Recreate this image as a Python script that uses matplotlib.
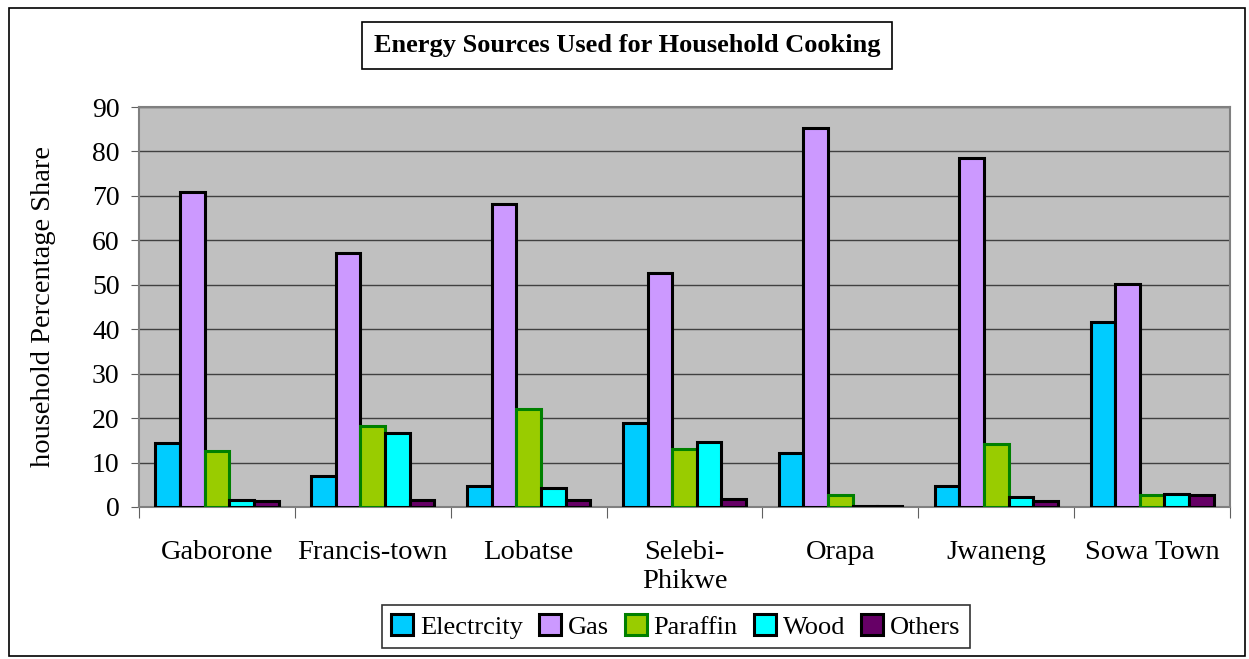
import matplotlib
matplotlib.use('Agg')

import matplotlib.pyplot as plt
from matplotlib.patches import Rectangle
import numpy as np

plt.rcParams['font.family'] = ['Liberation Serif', 'DejaVu Serif']

towns = ["Gaborone", "Francis-town", "Lobatse", "Selebi-\nPhikwe", "Orapa", "Jwaneng", "Sowa Town"]
sources = ["Electrcity", "Gas", "Paraffin", "Wood", "Others"]

electricity = [14.4, 7.0, 4.7, 18.9, 12.1, 4.7, 41.6]
gas = [70.9, 57.2, 68.2, 52.6, 85.3, 78.5, 50.2]
paraffin = [12.6, 18.2, 22.0, 13.0, 2.6, 14.1, 2.8]
wood = [1.5, 16.6, 4.3, 14.6, 0.2, 2.2, 3.0]
others = [1.3, 1.5, 1.5, 1.7, 0.3, 1.4, 2.7]

series = [electricity, gas, paraffin, wood, others]
face_colors = ["#00CCFF", "#CC99FF", "#99CC00", "#00FFFF", "#660066"]
edge_colors = ["black", "black", "#008000", "black", "black"]

fig = plt.figure(figsize=(12.49, 6.59), dpi=100)
ax = fig.add_axes([0.1113, 0.2307, 0.8735, 0.6069])

# outer chart frame
fig.patches.append(Rectangle((0.007, 0.005), 0.99, 0.983, transform=fig.transFigure,
                             fill=False, edgecolor="black", linewidth=1.2))

x = np.arange(len(towns))
width = 0.158
for i, (vals, fc, ec) in enumerate(zip(series, face_colors, edge_colors)):
    ax.bar(x + (i - 2) * width, vals, width, color=fc, edgecolor=ec,
           linewidth=2.2, label=sources[i], zorder=3)

ax.set_facecolor("#C0C0C0")
ax.set_xlim(-0.5, len(towns) - 0.5)
ax.set_ylim(0, 90)
ax.set_yticks(range(0, 91, 10))
ax.yaxis.grid(True, color="#404040", linewidth=1, zorder=0)
ax.tick_params(axis='y', labelsize=20, length=6, color="#606060", pad=8)

# category labels sit between boundary tick marks
ax.set_xticks(np.arange(-0.5, len(towns), 1.0))
ax.set_xticklabels([])
ax.set_xticks(x, minor=True)
ax.set_xticklabels(towns, minor=True, fontsize=20.5)
ax.tick_params(axis='x', which='major', length=8, color="#606060")
ax.tick_params(axis='x', which='minor', length=0, pad=24)

for side in ["left", "bottom", "right", "top"]:
    ax.spines[side].set_color("#808080")
    ax.spines[side].set_linewidth(1.5)

ax.set_ylabel("household Percentage Share", fontsize=20.5, labelpad=26)

fig.text(0.502, 0.931, "Energy Sources Used for Household Cooking", ha='center', va='center',
         fontsize=19, fontweight='bold',
         bbox=dict(boxstyle='square,pad=0.45', facecolor='white', edgecolor='black', linewidth=1.2))

leg = fig.legend(loc='center', bbox_to_anchor=(0.541, 0.049), ncol=5, fontsize=19,
                 frameon=True, fancybox=False, edgecolor='black', handlelength=0.85,
                 handleheight=0.85, handletextpad=0.25, columnspacing=0.6, borderpad=0.35)
leg.get_frame().set_linewidth(1.2)

fig.savefig("out.png", dpi=100)
